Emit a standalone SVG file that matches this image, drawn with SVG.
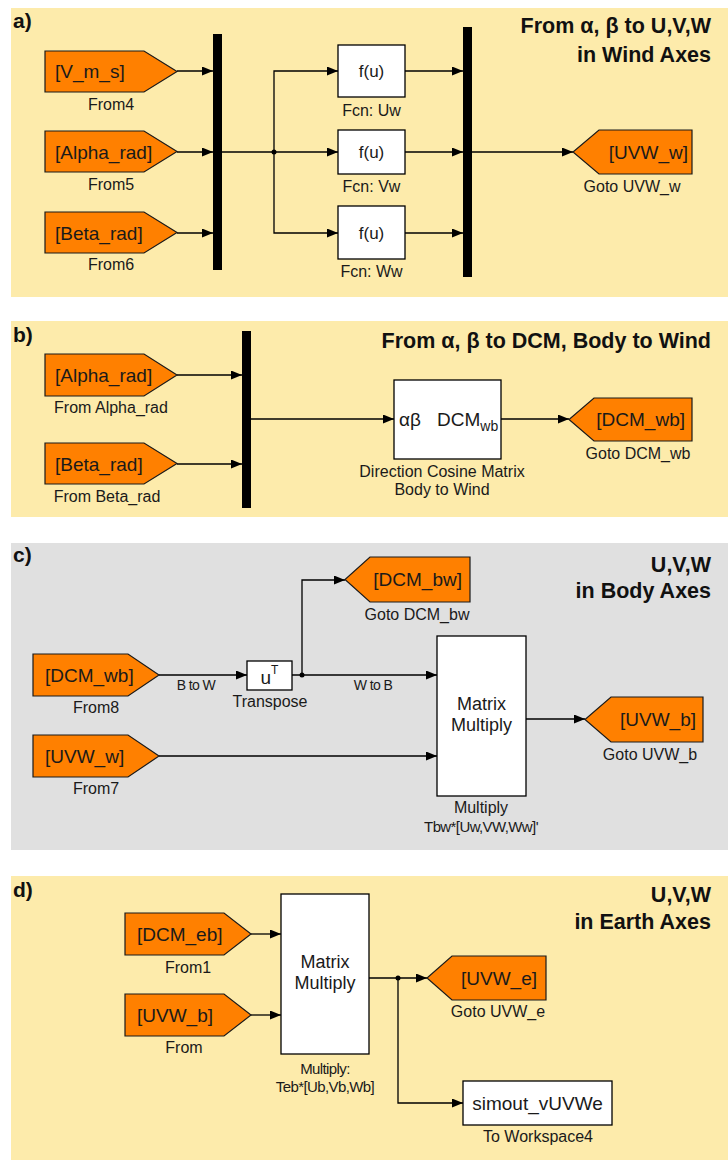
<svg xmlns="http://www.w3.org/2000/svg" width="728" height="1160" viewBox="0 0 728 1160">
<defs>
<marker id="arr" markerUnits="userSpaceOnUse" markerWidth="12" markerHeight="10" refX="11" refY="4.5" orient="auto">
<path d="M0,0 L11,4.5 L0,9 z" fill="#000"/>
</marker>
<style>
.bgy{fill:#fdebab}
.bgg{fill:#e0e0e0}
.tag{fill:#ff8000;stroke:#1a1a1a;stroke-width:1.2}
.blk{fill:#fff;stroke:#000;stroke-width:1.3}
.bar{fill:#000}
.ln{fill:none;stroke:#000;stroke-width:1.3}
.ln2{fill:none;stroke:#000;stroke-width:1.3;marker-end:url(#arr)}
.bt{font-family:"Liberation Sans",Arial,sans-serif;font-size:19px;fill:#1a1a1a}
.mm{font-family:"Liberation Sans",Arial,sans-serif;font-size:18px;fill:#1a1a1a;text-anchor:middle}
.lb{font-family:"Liberation Sans",Arial,sans-serif;font-size:16px;fill:#1a1a1a;text-anchor:middle}
.sm{font-family:"Liberation Sans",Arial,sans-serif;font-size:14px;fill:#1a1a1a;text-anchor:middle;letter-spacing:-0.6px}
.cd{font-family:"Liberation Sans",Arial,sans-serif;font-size:15px;fill:#1a1a1a;text-anchor:middle;letter-spacing:-0.6px}
.ttl{font-family:"Liberation Sans",Arial,sans-serif;font-size:21.5px;font-weight:bold;fill:#111;text-anchor:end}
.pl{font-family:"Liberation Sans",Arial,sans-serif;font-size:21px;font-weight:bold;fill:#111}
.mid{text-anchor:middle}
.end{text-anchor:end}
</style>
</defs>

<!-- Panel backgrounds -->
<rect class="bgy" x="11" y="8" width="717" height="289"/>
<rect class="bgy" x="11" y="321" width="717" height="196"/>
<rect class="bgg" x="11" y="543" width="717" height="307"/>
<rect class="bgy" x="11" y="876" width="717" height="284"/>

<text class="pl" x="13" y="28">a)</text>
<text class="ttl" x="711" y="33">From α, β to U,V,W</text>
<text class="ttl" x="711" y="62">in Wind Axes</text>
<text class="pl" x="13" y="342">b)</text>
<text class="ttl" x="711" y="348">From α, β to DCM, Body to Wind</text>
<text class="pl" x="13" y="562">c)</text>
<text class="ttl" x="711" y="572">U,V,W</text>
<text class="ttl" x="711" y="598">in Body Axes</text>
<text class="pl" x="13" y="897">d)</text>
<text class="ttl" x="711" y="902">U,V,W</text>
<text class="ttl" x="711" y="929">in Earth Axes</text>

<!-- Connectors -->
<g id="connectors">
<!-- a -->
<path class="ln2" d="M177,71 H213"/>
<path class="ln2" d="M177,152 H213"/>
<path class="ln2" d="M177,233 H213"/>
<path class="ln2" d="M222,152 H338"/>
<path class="ln2" d="M274,152 V71 H338"/>
<path class="ln2" d="M274,152 V233 H338"/>
<circle cx="274" cy="152" r="2.5" fill="#000"/>
<path class="ln2" d="M405,71 H463"/>
<path class="ln2" d="M405,152 H463"/>
<path class="ln2" d="M405,233 H463"/>
<path class="ln2" d="M472,152 H573"/>
<!-- b -->
<path class="ln2" d="M177,375 H242"/>
<path class="ln2" d="M177,464 H242"/>
<path class="ln2" d="M251,419 H394"/>
<path class="ln2" d="M501,419 H569"/>
<!-- c -->
<path class="ln2" d="M159,675 H247"/>
<path class="ln2" d="M292,675 H437"/>
<path class="ln2" d="M302,675 V580 H345"/>
<circle cx="302" cy="675" r="2.5" fill="#000"/>
<path class="ln2" d="M159,756 H437"/>
<path class="ln2" d="M526,719 H585"/>
<text class="sm" x="196" y="690">B to W</text>
<text class="sm" x="373" y="690">W to B</text>
<!-- d -->
<path class="ln2" d="M251,934 H281"/>
<path class="ln2" d="M251,1015 H281"/>
<path class="ln2" d="M369,978 H427"/>
<path class="ln2" d="M398,978 V1103 H463"/>
<circle cx="398" cy="978" r="2.5" fill="#000"/>
</g>

<!-- Panel a nodes -->
<g id="From4">
<polygon class="tag" points="45,51 144,51 177,71.5 144,92 45,92"/>
<text class="bt" x="55" y="78">[V_m_s]</text>
<text class="lb" x="111" y="110">From4</text>
</g>
<g id="From5">
<polygon class="tag" points="45,131 144,131 177,151.5 144,172 45,172"/>
<text class="bt" x="55" y="158.5">[Alpha_rad]</text>
<text class="lb" x="111" y="190">From5</text>
</g>
<g id="From6">
<polygon class="tag" points="45,212 144,212 177,232.5 144,253 45,253"/>
<text class="bt" x="55" y="239.5">[Beta_rad]</text>
<text class="lb" x="111" y="270">From6</text>
</g>
<g id="Mux1a"><rect class="bar" x="213" y="34" width="9" height="236"/></g>
<g id="FcnUw">
<rect class="blk" x="338" y="45" width="67" height="52"/>
<text class="bt mid" x="371.5" y="77" style="font-size:17px">f(u)</text>
<text class="lb" x="371.5" y="116">Fcn: Uw</text>
</g>
<g id="FcnVw">
<rect class="blk" x="338" y="130" width="67" height="44"/>
<text class="bt mid" x="371.5" y="158" style="font-size:17px">f(u)</text>
<text class="lb" x="371.5" y="192">Fcn: Vw</text>
</g>
<g id="FcnWw">
<rect class="blk" x="338" y="206" width="67" height="53"/>
<text class="bt mid" x="371.5" y="239" style="font-size:17px">f(u)</text>
<text class="lb" x="371.5" y="277">Fcn: Ww</text>
</g>
<g id="Mux2a"><rect class="bar" x="463" y="27" width="9" height="250"/></g>
<g id="GotoUVW_w">
<polygon class="tag" points="692,130 599,130 573,152 599,174 692,174"/>
<text class="bt end" x="688" y="158.5">[UVW_w]</text>
<text class="lb" x="632" y="192">Goto UVW_w</text>
</g>

<!-- Panel b nodes -->
<g id="FromAlpha_rad">
<polygon class="tag" points="45,354 144,354 177,375 144,396 45,396"/>
<text class="bt" x="55" y="382">[Alpha_rad]</text>
<text class="lb" x="111" y="413">From Alpha_rad</text>
</g>
<g id="FromBeta_rad">
<polygon class="tag" points="45,443 144,443 177,463.5 144,484 45,484"/>
<text class="bt" x="55" y="470.5">[Beta_rad]</text>
<text class="lb" x="107" y="502">From Beta_rad</text>
</g>
<g id="Mux_b"><rect class="bar" x="242" y="331" width="9" height="177"/></g>
<g id="DCM">
<rect class="blk" x="394" y="380" width="107" height="79"/>
<text class="bt" x="399" y="426">αβ</text>
<text class="bt" x="437" y="426">DCM<tspan style="font-size:14px" dy="5">wb</tspan></text>
<text class="lb" x="442" y="477">Direction Cosine Matrix</text>
<text class="lb" x="442" y="495">Body to Wind</text>
</g>
<g id="GotoDCM_wb">
<polygon class="tag" points="692,398 594,398 569,419.5 594,441 692,441"/>
<text class="bt end" x="685" y="426">[DCM_wb]</text>
<text class="lb" x="638" y="459">Goto DCM_wb</text>
</g>

<!-- Panel c nodes -->
<g id="From8">
<polygon class="tag" points="33,654 128,654 159,675 128,696 33,696"/>
<text class="bt" x="45" y="682">[DCM_wb]</text>
<text class="lb" x="96" y="713">From8</text>
</g>
<g id="Transpose">
<rect class="blk" x="247" y="661" width="45" height="29"/>
<text class="bt mid" x="269.5" y="684">u<tspan style="font-size:12px" dy="-10">T</tspan></text>
<text class="lb" x="270" y="707">Transpose</text>
</g>
<g id="GotoDCM_bw">
<polygon class="tag" points="470,557 370,557 345,579.5 370,602 470,602"/>
<text class="bt end" x="462" y="586">[DCM_bw]</text>
<text class="lb" x="417" y="620">Goto DCM_bw</text>
</g>
<g id="MatMul_c">
<rect class="blk" x="437" y="636" width="89" height="160"/>
<text class="mm" x="481.5" y="710">Matrix</text>
<text class="mm" x="481.5" y="731">Multiply</text>
<text class="lb" x="481" y="813">Multiply</text>
<text class="cd" x="481" y="832">Tbw*[Uw,VW,Ww]'</text>
</g>
<g id="From7">
<polygon class="tag" points="33,735 128,735 159,756 128,777 33,777"/>
<text class="bt" x="45" y="763">[UVW_w]</text>
<text class="lb" x="96" y="794">From7</text>
</g>
<g id="GotoUVW_b">
<polygon class="tag" points="703,697 611,697 585,719.5 611,742 703,742"/>
<text class="bt end" x="696" y="726">[UVW_b]</text>
<text class="lb" x="650" y="760">Goto UVW_b</text>
</g>

<!-- Panel d nodes -->
<g id="From1">
<polygon class="tag" points="125,913 224,913 251,934 224,955 125,955"/>
<text class="bt" x="137" y="941">[DCM_eb]</text>
<text class="lb" x="188" y="973">From1</text>
</g>
<g id="From">
<polygon class="tag" points="125,994 224,994 251,1015 224,1036 125,1036"/>
<text class="bt" x="137" y="1022">[UVW_b]</text>
<text class="lb" x="184" y="1053">From</text>
</g>
<g id="MatMul_d">
<rect class="blk" x="281" y="894" width="88" height="160"/>
<text class="mm" x="325" y="968">Matrix</text>
<text class="mm" x="325" y="989">Multiply</text>
<text class="cd" x="325" y="1074">Multiply:</text>
<text class="cd" x="325" y="1092">Teb*[Ub,Vb,Wb]</text>
</g>
<g id="GotoUVW_e">
<polygon class="tag" points="546,956 452,956 427,978 452,1000 546,1000"/>
<text class="bt end" x="537" y="985">[UVW_e]</text>
<text class="lb" x="498" y="1017">Goto UVW_e</text>
</g>
<g id="ToWorkspace4">
<rect class="blk" x="463" y="1081" width="149" height="44"/>
<text class="bt mid" x="537.5" y="1110">simout_vUVWe</text>
<text class="lb" x="538" y="1142">To Workspace4</text>
</g>
</svg>
